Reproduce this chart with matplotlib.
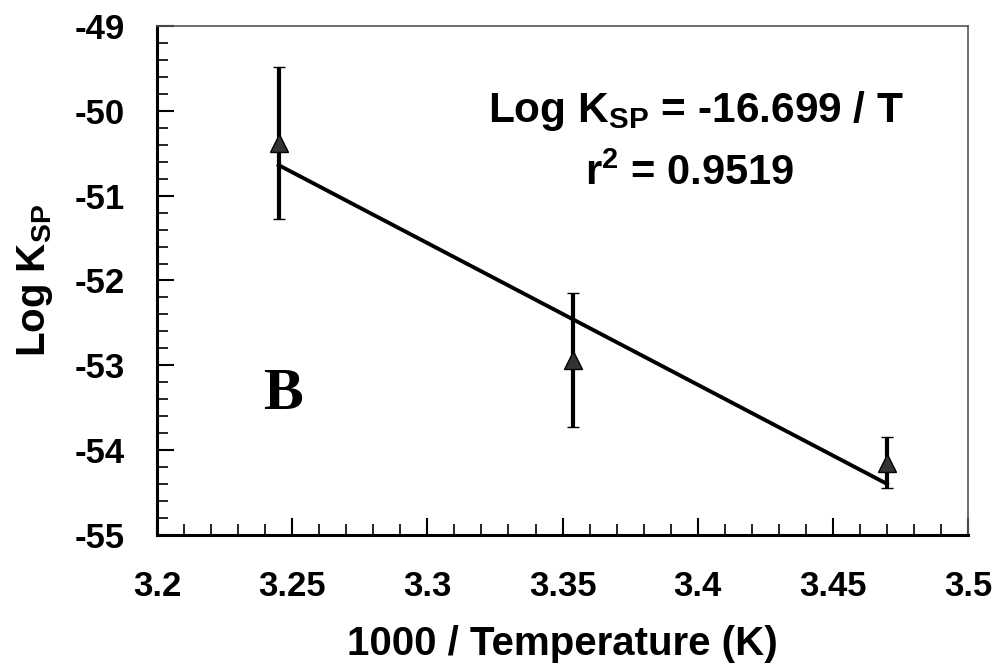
#! /usr/bin/env python3

import numpy as np
from matplotlib import pyplot as plt
from matplotlib.ticker import MultipleLocator

inv_temp = [3.245, 3.354, 3.470]
log_ksp = [-50.38, -52.94, -54.15]
log_ksp_err = [0.90, 0.79, 0.30]

fit_slope = -16.699
fit_intercept = 3.548

xtick_vals = [3.2, 3.25, 3.3, 3.35, 3.4, 3.45, 3.5]
xtick_labels = ['3.2', '3.25', '3.3', '3.35', '3.4', '3.45', '3.5']

plt.rcParams['font.family'] = ['Liberation Sans', 'DejaVu Sans']
plt.rcParams['font.weight'] = 'bold'
plt.rcParams['axes.unicode_minus'] = False
plt.rcParams['mathtext.fontset'] = 'custom'
plt.rcParams['mathtext.rm'] = 'Liberation Sans:bold'
plt.rcParams['mathtext.it'] = 'Liberation Sans:bold'
plt.rcParams['mathtext.bf'] = 'Liberation Sans:bold'

fig = plt.figure(figsize = (9.96, 6.66), dpi = 100)
ax = fig.add_axes([0.1576, 0.1967, 0.8144, 0.7643])

x = np.array(inv_temp)
ax.plot(x, fit_slope * x + fit_intercept, color = 'black', lw = 2.8, zorder = 2)
ax.errorbar(inv_temp, log_ksp, yerr = log_ksp_err, fmt = '^', ms = 13,
            mfc = '#333333', mec = 'black', mew = 1, ecolor = 'black',
            elinewidth = 3, capsize = 4.3, capthick = 3.2, zorder = 3)

ax.set_xlim(3.2, 3.5)
ax.set_ylim(-55, -49)
ax.set_xticks(xtick_vals)
ax.set_xticklabels(xtick_labels)
ax.xaxis.set_minor_locator(MultipleLocator(0.01))
ax.yaxis.set_major_locator(MultipleLocator(1))
ax.yaxis.set_minor_locator(MultipleLocator(0.2))
ax.tick_params(which = 'major', direction = 'in', length = 12, width = 1.5,
               labelsize = 25)
ax.tick_params(which = 'minor', direction = 'in', length = 8, width = 1.2)
ax.tick_params(axis = 'x', which = 'major', pad = 25)
ax.tick_params(axis = 'y', which = 'major', pad = 23)

for side in ['left', 'bottom']:
    ax.spines[side].set_linewidth(2.2)
for side in ['top', 'right']:
    ax.spines[side].set_linewidth(1.2)
    ax.spines[side].set_color('#555555')

ax.set_xlabel('1000 / Temperature (K)', fontsize = 29, fontweight = 'bold', labelpad = 16)
ax.set_ylabel(r'Log K$_{SP}$', fontsize = 29, fontweight = 'bold', labelpad = 14)

ax.text(0.665, 0.811, r'Log K$_{SP}$ = -16.699 / T', transform = ax.transAxes,
        fontsize = 30.5, fontweight = 'bold', ha = 'center', va = 'baseline')
ax.text(0.657, 0.688, r'r$^{2}$ = 0.9519', transform = ax.transAxes,
        fontsize = 30, fontweight = 'bold', ha = 'center', va = 'baseline')
ax.text(0.155, 0.275, 'B', transform = ax.transAxes, fontsize = 43,
        fontweight = 'bold', family = 'Liberation Serif', ha = 'center', va = 'center')

fig.savefig('out.png', dpi = 100)
